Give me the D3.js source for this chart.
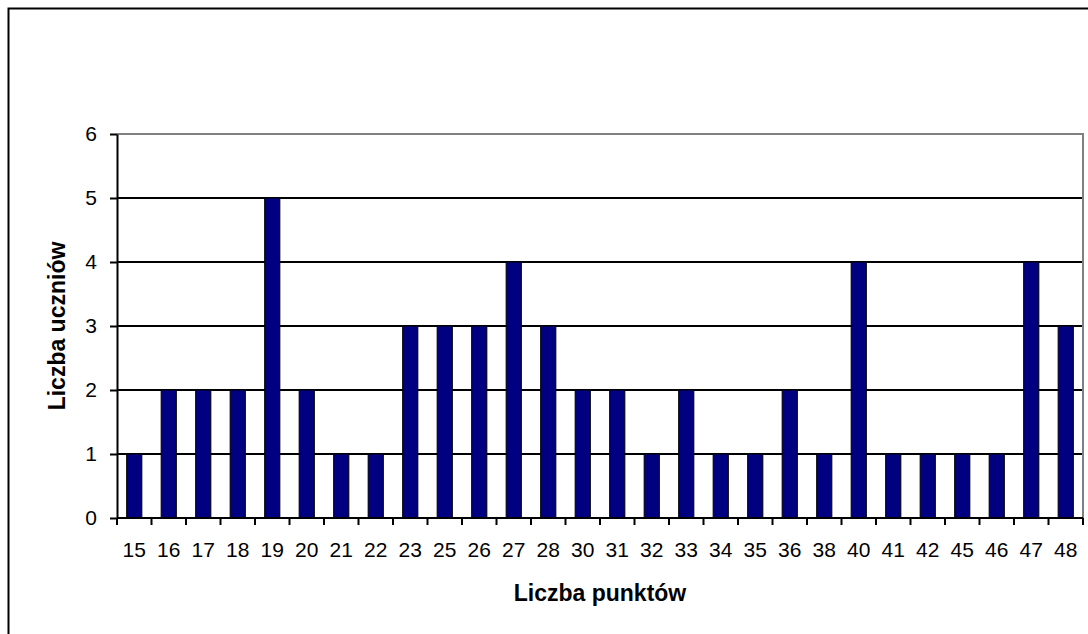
<!DOCTYPE html>
<html>
<head>
<meta charset="utf-8">
<script src="https://cdn.jsdelivr.net/npm/d3@7"></script>
<style>
  html, body { margin: 0; padding: 0; background: #fff; }
  svg { display: block; font-family: "Liberation Sans", Arial, sans-serif; }
</style>
</head>
<body>
<div id="chart"></div>
<script>
// data
const points = ['15','16','17','18','19','20','21','22','23','25','26','27','28','30','31','32','33','34','35','36','38','40','41','42','45','46','47','48'];
const pupils = [1,2,2,2,5,2,1,1,3,3,3,4,3,2,2,1,2,1,1,2,1,4,1,1,1,1,4,3];
const yTicks = [0,1,2,3,4,5,6];

const width = 1088;
const height = 634;
const margin = {left: 117, right: 5, top: 134, bottom: 116};

const svg = d3.select('#chart')
              .append('svg')
              .attr('width', width)
              .attr('height', height);

// outer chart frame (right and bottom edges fall outside the picture)
svg.append('rect')
   .attr('x', 8.5).attr('y', 8.5)
   .attr('width', width + 20).attr('height', height + 20)
   .attr('fill', 'none')
   .attr('stroke', '#000')
   .attr('stroke-width', 2);

const xScale = d3.scaleBand()
                 .domain(points)
                 .range([margin.left, width - margin.right])
                 .paddingInner(0.56)
                 .paddingOuter(0.28);

const xBand = d3.scaleBand()
                .domain(points)
                .range([margin.left, width - margin.right]);

const yScale = d3.scaleLinear()
                 .domain([0, 6])
                 .range([height - margin.bottom, margin.top]);

// gridlines
svg.append('g')
   .selectAll('line')
   .data(yTicks.filter(d => d > 0 && d < 6))
   .enter()
   .append('line')
   .attr('x1', margin.left).attr('x2', width - margin.right)
   .attr('y1', d => yScale(d)).attr('y2', d => yScale(d))
   .attr('stroke', '#000')
   .attr('stroke-width', 2);

// plot area border (grey, top and right)
svg.append('path')
   .attr('d', 'M' + margin.left + ',' + yScale(6) + 'H' + (width - margin.right) + 'V' + yScale(0))
   .attr('fill', 'none')
   .attr('stroke', '#808080')
   .attr('stroke-width', 2);

// bars
svg.selectAll('rect.bar')
   .data(points)
   .enter()
   .append('rect')
   .attr('class', 'bar')
   .attr('x', d => xScale(d))
   .attr('y', (d, i) => yScale(pupils[i]))
   .attr('width', xScale.bandwidth())
   .attr('height', (d, i) => yScale(0) - yScale(pupils[i]))
   .attr('fill', '#000080')
   .attr('stroke', '#000')
   .attr('stroke-width', 1);

// y axis
const yAxis = d3.axisLeft(yScale)
                .tickValues(yTicks)
                .tickFormat(d3.format('d'))
                .tickSize(7)
                .tickPadding(13)
                .tickSizeOuter(0);

const gy = svg.append('g')
   .attr('transform', 'translate(' + margin.left + ',0)')
   .call(yAxis);
gy.select('.domain').attr('stroke-width', 2);
gy.selectAll('.tick line').attr('stroke-width', 2);
gy.selectAll('.tick text').style('font-size', '21px').attr('fill', '#000');

// x axis, ticks at category boundaries
const gx = svg.append('g')
   .attr('transform', 'translate(0,' + yScale(0) + ')');
gx.append('line')
  .attr('x1', margin.left).attr('x2', width - margin.right)
  .attr('stroke', '#000').attr('stroke-width', 2);
gx.selectAll('line.tick')
  .data(points)
  .enter()
  .append('line')
  .attr('class', 'tick')
  .attr('x1', d => xBand(d)).attr('x2', d => xBand(d))
  .attr('y1', 0).attr('y2', 7)
  .attr('stroke', '#000').attr('stroke-width', 2);
gx.append('line')
  .attr('x1', width - margin.right).attr('x2', width - margin.right)
  .attr('y1', 0).attr('y2', 7)
  .attr('stroke', '#000').attr('stroke-width', 2);
gx.selectAll('text')
  .data(points)
  .enter()
  .append('text')
  .attr('x', d => xBand(d) + xBand.bandwidth() / 2)
  .attr('y', 39)
  .attr('text-anchor', 'middle')
  .style('font-size', '21px')
  .text(d => d);

// axis titles
svg.append('text')
   .attr('x', (margin.left + width - margin.right) / 2)
   .attr('y', 601)
   .attr('text-anchor', 'middle')
   .style('font-size', '23px')
   .style('font-weight', 'bold')
   .text('Liczba punktów');

svg.append('text')
   .attr('transform', 'translate(65,' + (yScale(0) + yScale(6)) / 2 + ') rotate(-90)')
   .attr('text-anchor', 'middle')
   .style('font-size', '23px')
   .style('font-weight', 'bold')
   .text('Liczba uczniów');
</script>
</body>
</html>
